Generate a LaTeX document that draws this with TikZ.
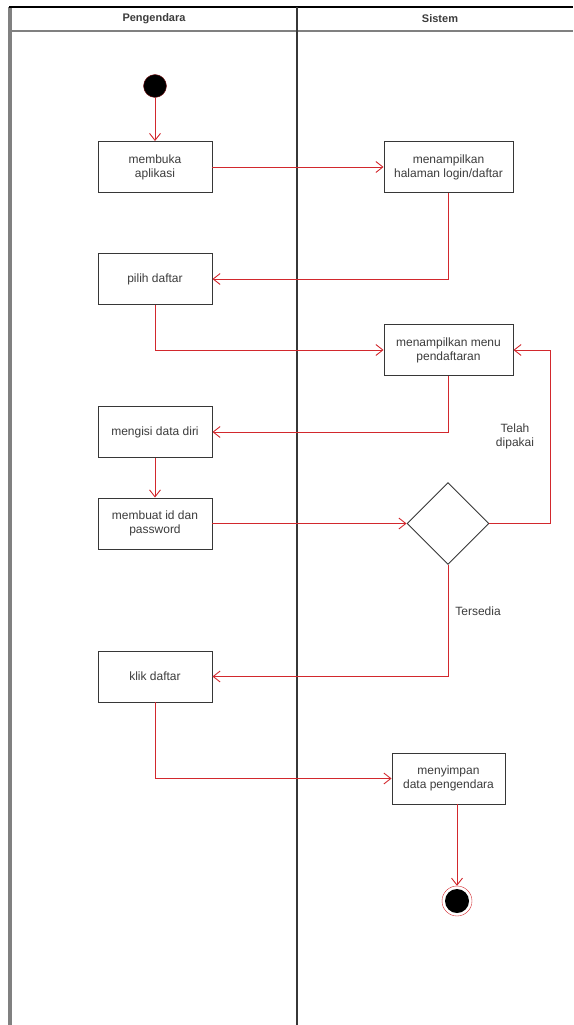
\documentclass[tikz,border=0pt]{standalone}
\usepackage{fontspec}
\setmainfont{Liberation Sans}
\usetikzlibrary{shapes.geometric,arrows.meta}
\definecolor{flowred}{RGB}{210,40,45}
\definecolor{laneline}{RGB}{55,55,55}
\definecolor{textgray}{RGB}{60,60,60}

\begin{document}
\begin{tikzpicture}[x=1pt,y=-1pt,
	aksi/.style={draw=laneline,line width=0.9pt,fill=white,minimum width=114pt,minimum height=51pt,align=center,inner sep=2pt,font=\fontsize{12}{14}\selectfont,text=textgray},
	alur/.style={draw=flowred,line width=0.9pt,-{Straight Barb[length=7pt,width=11pt]}},
	tulisan/.style={align=center,font=\fontsize{12}{14}\selectfont,text=textgray}]
		\useasboundingbox (0,0) rectangle (573,1025);
		\begin{scope}                           % swimlanes
			\draw[gray,line width=3.5pt] (10,7) -- (10,1025);
			\draw[gray,line width=1.5pt] (10,31) -- (573,31);
			\draw[black,line width=2pt] (9,7) -- (573,7);
			\draw[laneline,line width=1.8pt] (297,7) -- (297,1025);
			\node[font=\bfseries\fontsize{11}{13}\selectfont,text=textgray] (lajur1) at (154,19) {Pengendara};
			\node[font=\bfseries\fontsize{11}{13}\selectfont,text=textgray] (lajur2) at (440,19) {Sistem};
		\end{scope}

		% aktivitas
		\node[circle,fill=black,draw=flowred!60!black,minimum size=23pt,inner sep=0pt] (mulai) at (155,86) {};
		\node[aksi] (membuka) at (155,167) {membuka\\aplikasi};
		\node[aksi,minimum width=129pt] (halaman) at (448.5,167) {menampilkan\\halaman login/daftar};
		\node[aksi] (pilih) at (155,279) {pilih daftar};
		\node[aksi,minimum width=129pt] (menu) at (448.5,350) {menampilkan menu\\pendaftaran};
		\node[aksi] (mengisi) at (155,432) {mengisi data diri};
		\node[aksi] (membuat) at (155,523.5) {membuat id dan\\password};
		\node[diamond,draw=laneline,line width=0.9pt,fill=white,minimum width=82pt,minimum height=82pt,inner sep=0pt] (cek) at (448,523.5) {};
		\node[aksi] (klik) at (155,676.5) {klik daftar};
		\node[aksi,minimum width=113pt] (simpan) at (448.5,778.5) {menyimpan\\data pengendara};
		\node[circle,draw=flowred,fill=white,minimum size=30pt,inner sep=0pt] (akhir) at (457,901) {};
		\node[circle,fill=black,minimum size=24pt,inner sep=0pt] (akhirdalam) at (akhir) {};
		\coordinate (belok) at (550,523.5);

		% alur
		\draw[alur] (mulai) -- (membuka);
		\draw[alur] (membuka) -- (halaman);
		\draw[alur] (halaman.south) |- (pilih.east);
		\draw[alur] (pilih.south) |- (menu.west);
		\draw[alur] (menu.south) |- (mengisi.east);
		\draw[alur] (mengisi) -- (membuat);
		\draw[alur] (membuat) -- (cek);
		\draw[alur] (cek.east) -- (belok) |- (menu.east);
		\draw[alur] (cek.south) |- (klik.east);
		\draw[alur] (klik.south) |- (simpan.west);
		\draw[alur] (simpan.south -| akhir) -- (akhir);
		\node[tulisan] (telah) at (515,436) {Telah\\dipakai};
		\node[tulisan] (tersedia) at (478,611) {Tersedia};
\end{tikzpicture}
\end{document}
